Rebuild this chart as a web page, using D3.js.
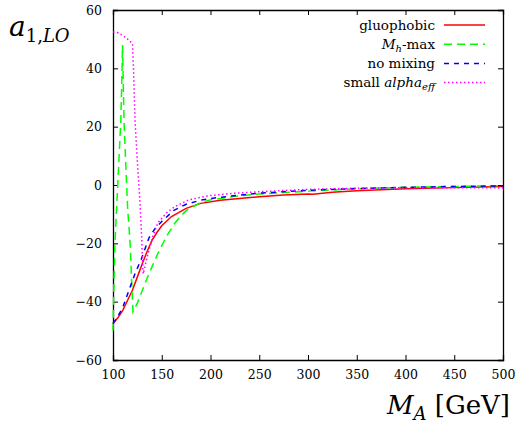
<!DOCTYPE html>
<html>
<head>
<meta charset="utf-8">
<script src="https://cdn.jsdelivr.net/npm/d3@7"></script>
<style>
  body { margin: 0; background: #fff; }
  svg { display: block; }
  .axis text { font-family: "DejaVu Serif", "Liberation Serif", serif; font-size: 12.5px; fill: #000; }
  .axis path, .axis line { stroke: #000; }
  .lbl { font-family: "DejaVu Serif", "Liberation Serif", serif; fill: #000; }
</style>
</head>
<body>
<svg id="chart" width="520" height="428"></svg>
<script>
// values: [M_A in GeV, a_1,LO]
const gluophobic = [[100,-47.5],[105,-45.5],[110,-43],[115,-39.5],[120,-36],[125,-31.5],[130,-27],[135,-22.8],[140,-19],[145,-16.3],[150,-14],[160,-10.8],[175,-8],[190,-6.3],[210,-5.2],[250,-4],[275,-3.4],[300,-3.1],[305,-3.2],[325,-2.5],[350,-2],[400,-1.3],[450,-0.9],[500,-0.5]];
const mhMax = [[100,-50],[101,-33],[102,-20],[104,-6],[106,8],[108,22],[109,35],[109.8,48],[110.5,35],[111.3,22],[113,8],[115,-8],[117.4,-19],[119,-32],[120.5,-43.5],[125,-40.5],[129,-37],[135,-32],[140,-28],[146,-23.5],[155,-17.5],[163,-13.3],[170,-10.4],[177,-8.3],[190,-6],[200,-5.1],[225,-3.9],[250,-3.1],[275,-2.6],[300,-2.1],[350,-1.3],[400,-0.8],[450,-0.5],[500,-0.2]];
const noMixing = [[100,-47.5],[105,-45],[110,-42],[117,-35.5],[123,-30],[129,-25.5],[137,-18],[143,-15],[150,-12.5],[162,-8.8],[175,-6.6],[190,-5.2],[210,-4.2],[250,-2.8],[300,-1.8],[350,-1.2],[400,-0.8],[450,-0.5],[500,-0.3]];
const smallAlpha = [[100,52.5],[105,52.2],[110,51.3],[115,50],[120,48.5],[121,40],[122.6,22],[125,8],[127.5,-5],[129.4,-17.8],[130.3,-27],[131,-30.5],[133,-27.5],[136,-23.5],[141,-17.5],[146,-13],[155,-9.5],[163,-7.5],[177,-5.2],[190,-4.2],[200,-3.6],[225,-2.8],[250,-2.3],[300,-1.5],[350,-1.1],[400,-0.9],[450,-0.9],[500,-1]];

const xTicks = [100, 150, 200, 250, 300, 350, 400, 450, 500];
const yTicks = [-60, -40, -20, 0, 20, 40, 60];

const seriesList = [
  { name: 'gluophobic', data: gluophobic, color: '#ff0000', dash: null },
  { name: 'mhmax', data: mhMax, color: '#00ff00', dash: '8,5' },
  { name: 'nomix', data: noMixing, color: '#0000ff', dash: '5,5' },
  { name: 'small', data: smallAlpha, color: '#ff00ff', dash: '1.5,2.5' }
];

const svg = d3.select('#chart');
const plotLeft = 113, plotRight = 503, plotTop = 10, plotBottom = 360;

const x = d3.scaleLinear().domain([100, 500]).range([plotLeft, plotRight]);
const y = d3.scaleLinear().domain([-60, 60]).range([plotBottom, plotTop]);

// axes with inward ticks, mirrored on top and right
svg.append('g').attr('class', 'axis')
  .attr('transform', `translate(0,${plotBottom})`)
  .call(d3.axisBottom(x).tickValues(xTicks).tickSize(-5).tickPadding(10).tickFormat(d3.format('d')));
svg.append('g').attr('class', 'axis')
  .attr('transform', `translate(0,${plotTop})`)
  .call(d3.axisTop(x).tickValues(xTicks).tickSize(-5).tickFormat(''));
svg.append('g').attr('class', 'axis')
  .attr('transform', `translate(${plotLeft},0)`)
  .call(d3.axisLeft(y).tickValues(yTicks).tickSize(-5).tickPadding(11).tickFormat(d3.format('d')));
svg.append('g').attr('class', 'axis')
  .attr('transform', `translate(${plotRight},0)`)
  .call(d3.axisRight(y).tickValues(yTicks).tickSize(-5).tickFormat(''));

svg.selectAll('.axis').attr('font-family', null);
svg.selectAll('.axis path').attr('stroke-width', 1.3);

// curves
const line = d3.line().x(d => x(d[0])).y(d => y(d[1]));
const plot = svg.append('g');
seriesList.forEach(s => {
  plot.append('path')
    .datum(s.data)
    .attr('d', line)
    .attr('fill', 'none')
    .attr('stroke', s.color)
    .attr('stroke-width', 1.5)
    .attr('stroke-dasharray', s.dash);
});

// legend
const legend = svg.append('g').attr('class', 'lbl').style('font-size', '13.5px');
const rowY = i => 25 + i * 19.2;
const legendText = [
  t => t.text('gluophobic'),
  t => { t.append('tspan').attr('font-style', 'italic').text('M');
         t.append('tspan').attr('font-style', 'italic').attr('font-size', '10px').attr('dy', 3).text('h');
         t.append('tspan').attr('dy', -3).text('-max'); },
  t => t.text('no mixing'),
  t => { t.append('tspan').text('small ');
         t.append('tspan').attr('font-style', 'italic').text('alpha');
         t.append('tspan').attr('font-style', 'italic').attr('font-size', '10px').attr('dy', 3).text('eff'); }
];
seriesList.forEach((s, i) => {
  const t = legend.append('text')
    .attr('x', 435).attr('y', rowY(i) + 4.5)
    .attr('text-anchor', 'end');
  legendText[i](t);
  legend.append('line')
    .attr('x1', 444).attr('x2', 485)
    .attr('y1', rowY(i)).attr('y2', rowY(i))
    .attr('stroke', s.color).attr('stroke-width', 1.5)
    .attr('stroke-dasharray', s.dash);
});

// axis titles
const yl = svg.append('text').attr('class', 'lbl').attr('x', 9).attr('y', 36).style('font-size', '28px');
yl.append('tspan').attr('font-style', 'italic').text('a');
yl.append('tspan').attr('font-size', '18px').attr('dy', 6).text('1,');
yl.append('tspan').attr('font-size', '18px').attr('font-style', 'italic').text('LO');

const xl = svg.append('text').attr('class', 'lbl').attr('x', 510).attr('y', 414)
  .attr('text-anchor', 'end').style('font-size', '26px');
xl.append('tspan').attr('font-style', 'italic').text('M');
xl.append('tspan').attr('font-style', 'italic').attr('font-size', '18px').attr('dy', 6).text('A');
xl.append('tspan').attr('dy', -6).text(' [GeV]');
</script>
</body>
</html>
